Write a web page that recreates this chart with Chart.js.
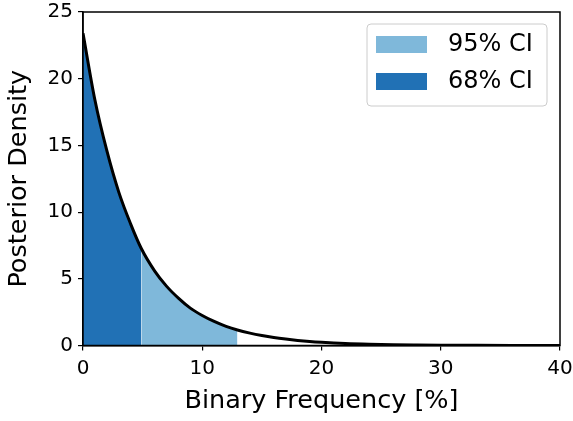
<!DOCTYPE html>
<html lang="en">
<head>
    <meta charset="UTF-8">
    <title>Posterior Density</title>
    <script src="https://cdn.jsdelivr.net/npm/chart.js"></script>
    <style>
        html, body { margin: 0; padding: 0; background: #fff; }
        #wrap { width: 573px; height: 421px; }
    </style>
</head>
<body>
    <div id="wrap"><canvas id="postChart" width="573" height="421"></canvas></div>
    <script>
        // Posterior curve sampled along binary frequency (%)
        const freq = [0, 1, 2, 3, 4, 4.9, 6, 7, 8, 9, 10, 11, 12, 12.95, 14, 15, 16, 17, 18, 19, 20, 22, 24, 26, 28, 30, 33, 36, 40];
        const density = [23.4, 18.4, 14.6, 11.5, 9.1, 7.25, 5.6, 4.45, 3.55, 2.8, 2.25, 1.8, 1.43, 1.16, 0.93, 0.75, 0.6, 0.48, 0.38, 0.3, 0.24, 0.15, 0.095, 0.06, 0.04, 0.025, 0.013, 0.007, 0.003];

        // Credible interval upper bounds (%)
        const ci68Upper = 4.9;
        const ci95Upper = 12.95;

        const xTicks = [0, 10, 20, 30, 40];
        const yTicks = [0, 5, 10, 15, 20, 25];

        const seriesLabels = ['95% CI', '68% CI'];
        const colors = { ci95: '#7fb8da', ci68: '#2171b5', curve: '#000000' };

        const pts = freq.map((x, i) => ({ x: x, y: density[i] }));
        const below = lim => pts.filter(p => p.x <= lim);
        const between = (lo, hi) => pts.filter(p => p.x >= lo && p.x <= hi);

        const FONT = "'DejaVu Sans', sans-serif";

        // matplotlib-style box: all four spines
        const frame = {
            id: 'frame',
            afterDatasetsDraw(chart) {
                const a = chart.chartArea, c = chart.ctx;
                c.save();
                c.strokeStyle = '#000';
                c.lineWidth = 1.5;
                c.strokeRect(a.left, a.top, a.right - a.left, a.bottom - a.top);
                c.restore();
            }
        };

        const ciLegend = {
            id: 'ciLegend',
            afterDraw(chart) {
                const c = chart.ctx;
                const bx = 367, by = 24, bw = 180, bh = 82, r = 4;
                c.save();
                c.beginPath();
                c.roundRect(bx, by, bw, bh, r);
                c.fillStyle = 'rgba(255,255,255,0.8)';
                c.fill();
                c.strokeStyle = '#cccccc';
                c.lineWidth = 1;
                c.stroke();
                const rows = [
                    { label: seriesLabels[0], color: colors.ci95, y: 36 },
                    { label: seriesLabels[1], color: colors.ci68, y: 73 }
                ];
                c.font = '24px ' + FONT;
                c.textBaseline = 'middle';
                rows.forEach(row => {
                    c.fillStyle = row.color;
                    c.fillRect(376, row.y, 51, 17);
                    c.fillStyle = '#000';
                    c.fillText(row.label, 448, row.y + 9);
                });
                c.restore();
            }
        };

        const ctx = document.getElementById('postChart').getContext('2d');
        new Chart(ctx, {
            type: 'line',
            data: {
                datasets: [
                    {
                        label: 'posterior',
                        data: pts,
                        borderColor: colors.curve,
                        borderWidth: 3,
                        pointRadius: 0,
                        fill: false,
                        cubicInterpolationMode: 'monotone',
                        order: 0
                    },
                    {
                        label: seriesLabels[0],
                        data: between(ci68Upper, ci95Upper),
                        backgroundColor: colors.ci95,
                        borderWidth: 0,
                        pointRadius: 0,
                        fill: 'origin',
                        cubicInterpolationMode: 'monotone',
                        order: 1
                    },
                    {
                        label: seriesLabels[1],
                        data: below(ci68Upper),
                        backgroundColor: colors.ci68,
                        borderWidth: 0,
                        pointRadius: 0,
                        fill: 'origin',
                        cubicInterpolationMode: 'monotone',
                        order: 1
                    }
                ]
            },
            options: {
                responsive: false,
                animation: false,
                layout: { padding: { top: 12, right: 13, left: 0, bottom: 0 } },
                plugins: {
                    legend: { display: false },
                    tooltip: { enabled: false }
                },
                scales: {
                    x: {
                        type: 'linear',
                        min: 0,
                        max: 40,
                        afterBuildTicks: s => { s.ticks = xTicks.map(v => ({ value: v })); },
                        afterFit: s => { s.height = 75.5; s.paddingLeft = 0; s.paddingRight = 0; },
                        grid: { drawOnChartArea: false, drawTicks: true, tickLength: 5, color: '#000', lineWidth: 1.2 },
                        border: { display: true, color: '#000', width: 1.5 },
                        ticks: { color: '#000', font: { family: FONT, size: 20 }, padding: 6, maxRotation: 0 },
                        title: { display: true, text: 'Binary Frequency [%]', color: '#000', font: { family: FONT, size: 25.5 }, padding: { top: 2 } }
                    },
                    y: {
                        min: 0,
                        max: 25,
                        afterBuildTicks: s => { s.ticks = yTicks.map(v => ({ value: v })); },
                        afterFit: s => { s.width = 83; s.paddingTop = 0; s.paddingBottom = 0; },
                        grid: { drawOnChartArea: false, drawTicks: true, tickLength: 5, color: '#000', lineWidth: 1.2 },
                        border: { display: true, color: '#000', width: 1.5 },
                        ticks: { color: '#000', font: { family: FONT, size: 20 }, padding: 5 },
                        title: { display: true, text: 'Posterior Density', color: '#000', font: { family: FONT, size: 25.5 }, padding: { bottom: 6 } }
                    }
                }
            },
            plugins: [frame, ciLegend]
        });
    </script>
</body>
</html>
